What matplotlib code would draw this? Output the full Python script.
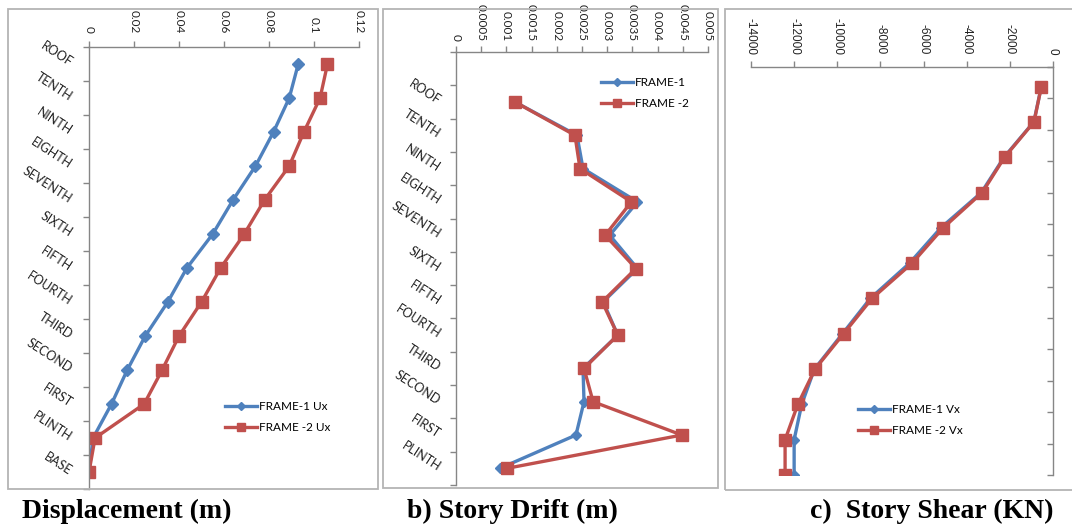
import numpy as np
import matplotlib.pyplot as plt
from matplotlib.patches import Rectangle

# storey labels, top to bottom
floors = ['ROOF', 'TENTH', 'NINTH', 'EIGHTH', 'SEVENTH', 'SIXTH', 'FIFTH',
          'FOURTH', 'THIRD', 'SECOND', 'FIRST', 'PLINTH', 'BASE']

# a) displacement (m)
disp_f1 = [0.093, 0.089, 0.082, 0.074, 0.064, 0.055, 0.0435, 0.035, 0.025, 0.017, 0.010, 0.0018, 0.0]
disp_f2 = [0.106, 0.1027, 0.0955, 0.089, 0.078, 0.069, 0.0585, 0.050, 0.040, 0.0325, 0.0245, 0.0027, 0.0]
disp_ticks = [0, 0.02, 0.04, 0.06, 0.08, 0.1, 0.12]

# b) story drift (m), ROOF..PLINTH
drift_f1 = [0.00117, 0.0024, 0.00252, 0.0036, 0.00305, 0.0036, 0.00292, 0.00321, 0.00252, 0.00254, 0.00238, 0.00087]
drift_f2 = [0.00117, 0.00236, 0.00246, 0.00348, 0.00296, 0.00357, 0.0029, 0.00321, 0.00254, 0.00272, 0.00448, 0.00101]
drift_ticks = [0, 0.0005, 0.001, 0.0015, 0.002, 0.0025, 0.003, 0.0035, 0.004, 0.0045, 0.005]

# c) story shear (kN) vs level height
levels = [49.5, 45, 40.5, 36, 31.5, 27, 22.5, 18, 13.5, 9, 4.5, 0]
shear_f1 = [-540, -890, -2270, -3320, -5200, -6650, -8470, -9760, -11060, -11650, -12000, -12000]
shear_f2 = [-540, -880, -2245, -3280, -5090, -6530, -8390, -9710, -11030, -11830, -12420, -12420]
shear_ticks = [-14000, -12000, -10000, -8000, -6000, -4000, -2000, 0]

BLUE = '#4F81BD'
RED = '#C0504D'
SPINE = '#868686'
W, H = 1072, 530

plt.rcParams['font.family'] = 'Lato'

fig = plt.figure(figsize=(W / 100, H / 100), dpi=100)


def box(x0, y0, x1, y1):
    return [x0 / W, 1 - y1 / H, (x1 - x0) / W, (y1 - y0) / H]


# outer chart frames
for (x0, y0, x1, y1) in [(8, 9, 378, 489), (383, 9, 718, 488), (725, 9, 1085, 490)]:
    fig.add_artist(Rectangle((x0 / W, 1 - y1 / H), (x1 - x0) / W, (y1 - y0) / H,
                             transform=fig.transFigure, fill=False,
                             edgecolor='#b4b4b4', lw=1.3))


def style(ax, side='left'):
    for s in ax.spines.values():
        s.set_color(SPINE)
        s.set_linewidth(1)
    ax.spines['bottom'].set_visible(False)
    ax.spines['right' if side == 'left' else 'left'].set_visible(False)
    ax.xaxis.tick_top()
    ax.tick_params(axis='both', which='major', color=SPINE, length=4, width=1)
    ax.tick_params(axis='x', labelrotation=-90, labelsize=8.5, labelcolor='#222222')


def cat_labels(ax, pos, labels, pad):
    ax.set_yticks(pos, labels, minor=True)
    ax.tick_params(axis='y', which='minor', length=0, pad=pad, labelsize=9, labelcolor='#222222')
    for lab in ax.get_yticklabels(minor=True):
        lab.set_rotation(-33)
        lab.set_ha('right')
        lab.set_va('center')
        lab.set_rotation_mode('anchor')


def leg(ax, x, y, labels):
    ax.legend(labels, loc='center left', bbox_to_anchor=(x, y), frameon=False,
              borderpad=0, borderaxespad=0, handlelength=2.7, handletextpad=0.15,
              labelspacing=0.8, fontsize=8.5, markerscale=0.75)


line_kw = dict(lw=2.4)

# a) displacement
ax1 = fig.add_axes(box(89, 47, 359, 489))
y1 = np.arange(len(floors))
ax1.plot(disp_f1, y1, color=BLUE, marker='D', ms=6, **line_kw)
ax1.plot(disp_f2, y1, color=RED, marker='s', ms=8.5, **line_kw)
ax1.set_xlim(0, 0.12)
ax1.set_ylim(len(floors) - 0.5, -0.5)
ax1.set_xticks(disp_ticks, ['%g' % t for t in disp_ticks])
ax1.set_yticks(np.arange(-0.5, len(floors), 1), [])
style(ax1)
ax1.tick_params(axis='x', pad=6)
cat_labels(ax1, y1, floors, 13)
leg(ax1, 0.504, 0.163, ['FRAME-1 Ux', 'FRAME -2 Ux'])

# b) story drift
ax2 = fig.add_axes(box(456, 52, 708, 485))
y2 = np.arange(1, len(floors))
ax2.plot(drift_f1, y2, color=BLUE, marker='D', ms=5.5, **line_kw)
ax2.plot(drift_f2, y2, color=RED, marker='s', ms=8.5, **line_kw)
ax2.set_xlim(0, 0.005)
ax2.set_ylim(len(floors) - 0.5, -0.5)
ax2.set_xticks(drift_ticks, ['%g' % t for t in drift_ticks])
ax2.set_yticks(np.arange(-0.5, len(floors), 1), [])
style(ax2)
ax2.tick_params(axis='x', pad=4)
cat_labels(ax2, y2, floors[:-1], 12)
leg(ax2, 0.575, 0.905, ['FRAME-1', 'FRAME -2'])

# c) story shear
ax3 = fig.add_axes(box(751, 67, 1053, 475))
ax3.plot(shear_f1, levels, color=BLUE, marker='D', ms=5.5, **line_kw)
ax3.plot(shear_f2, levels, color=RED, marker='s', ms=8, **line_kw)
ax3.set_xlim(-14000, 0)
ax3.set_ylim(0, 52)
ax3.set_xticks(shear_ticks, ['%d' % t for t in shear_ticks])
ax3.set_yticks(np.arange(0, 53, 4), [])
style(ax3, side='right')
ax3.yaxis.tick_right()
ax3.tick_params(axis='y', direction='in')
ax3.tick_params(axis='x', pad=5)
for lab in ax3.get_xticklabels():
    lab.set_fontfamily('Liberation Sans')
leg(ax3, 0.354, 0.135, ['FRAME-1 Vx', 'FRAME -2 Vx'])

# captions
cap = dict(fontsize=20, fontweight='bold', family='Liberation Serif', ha='center', va='center')
fig.text(127 / W, 1 - 511 / H, 'Displacement (m)', **cap)
fig.text(512 / W, 1 - 511 / H, 'b) Story Drift (m)', **cap)
fig.text(932 / W, 1 - 511 / H, 'c)  Story Shear (KN)', **cap)

fig.savefig('out.png', dpi=100)
